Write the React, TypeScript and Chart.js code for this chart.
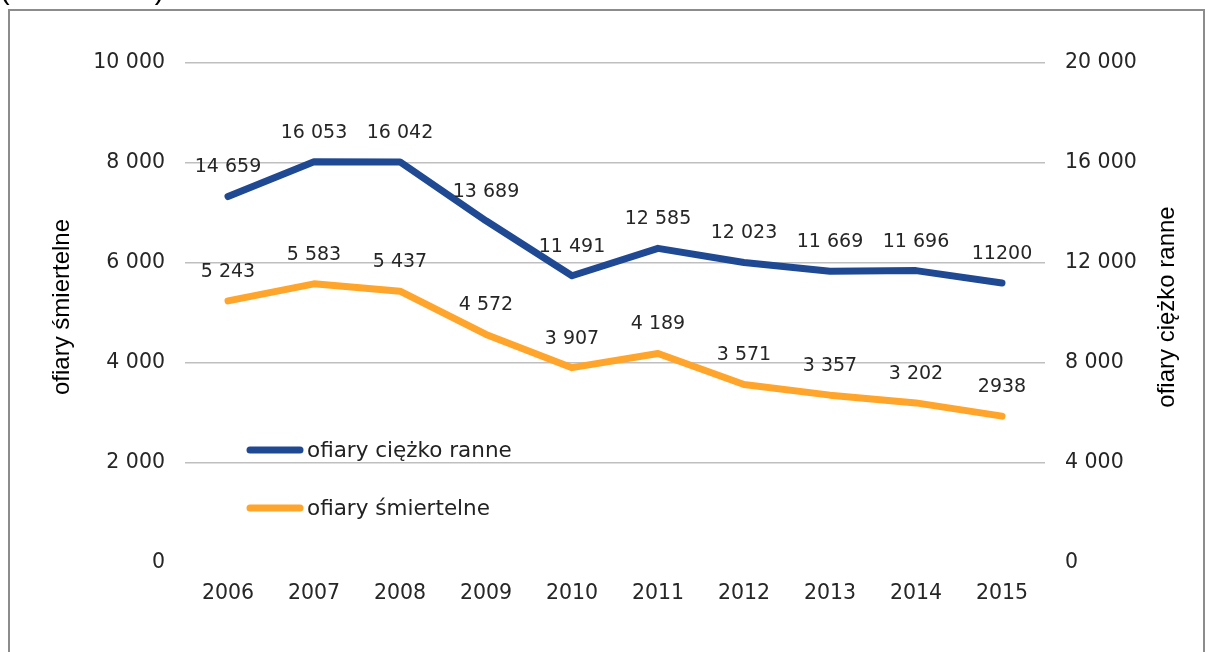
import React, { useEffect, useRef } from "react";
import { Chart, registerables } from "chart.js";

Chart.register(...registerables);

const years = ["2006", "2007", "2008", "2009", "2010", "2011", "2012", "2013", "2014", "2015"];
const seriouslyInjured = [14659, 16053, 16042, 13689, 11491, 12585, 12023, 11669, 11696, 11200];
const fatalities = [5243, 5583, 5437, 4572, 3907, 4189, 3571, 3357, 3202, 2938];
const injuredLabels = ["14 659", "16 053", "16 042", "13 689", "11 491", "12 585", "12 023", "11 669", "11 696", "11200"];
const fatalLabels = ["5 243", "5 583", "5 437", "4 572", "3 907", "4 189", "3 571", "3 357", "3 202", "2938"];
const seriesNames = ["ofiary ciężko ranne", "ofiary śmiertelne"];
const leftTitle = "ofiary śmiertelne";
const rightTitle = "ofiary ciężko ranne";
const topCaption = "(liczba osób)";

const BLUE = "#1F4A93";
const ORANGE = "#FFA52B";
const VERDANA = "'DejaVu Sans', Verdana, sans-serif";
const ARIAL = "'Liberation Sans', Arial, sans-serif";

const fmt = (v: number) => String(v).replace(/\B(?=(\d{3})+(?!\d))/g, " ");

const decorPlugin = {
  id: "decor",
  beforeDraw(chart: any) {
    const ctx = chart.ctx;
    ctx.save();
    ctx.fillStyle = "#ffffff";
    ctx.fillRect(0, 0, chart.width, chart.height);
    ctx.strokeStyle = "#8c8c8c";
    ctx.lineWidth = 2;
    ctx.strokeRect(9, 10, 1195, 700);
    ctx.fillStyle = "#000";
    ctx.font = `29px ${ARIAL}`;
    ctx.textBaseline = "alphabetic";
    ctx.textAlign = "left";
    ctx.fillText(topCaption, 0, -1);
    ctx.restore();
  },
  afterDatasetsDraw(chart: any) {
    const ctx = chart.ctx;
    const area = chart.chartArea;
    ctx.save();
    // data labels
    ctx.font = `19px ${VERDANA}`;
    ctx.fillStyle = "#262626";
    ctx.textAlign = "center";
    ctx.textBaseline = "middle";
    const labelSets = [injuredLabels, fatalLabels];
    chart.data.datasets.forEach((ds: any, di: number) => {
      const meta = chart.getDatasetMeta(di);
      meta.data.forEach((pt: any, i: number) => {
        ctx.fillText(labelSets[di][i], pt.x, pt.y - 29);
      });
    });
    // axis titles
    ctx.font = `24px ${ARIAL}`;
    ctx.fillStyle = "#000";
    const midY = (area.top + area.bottom) / 2 - 6;
    ctx.save();
    ctx.translate(62, midY);
    ctx.rotate(-Math.PI / 2);
    ctx.fillText(leftTitle, 0, 0);
    ctx.restore();
    ctx.save();
    ctx.translate(1167, midY);
    ctx.rotate(-Math.PI / 2);
    ctx.fillText(rightTitle, 0, 0);
    ctx.restore();
    // legend
    const colors = [BLUE, ORANGE];
    const legendYs = [450, 508];
    ctx.font = `21.5px ${VERDANA}`;
    ctx.textAlign = "left";
    ctx.textBaseline = "middle";
    seriesNames.forEach((name, i) => {
      ctx.strokeStyle = colors[i];
      ctx.lineWidth = 7;
      ctx.lineCap = "round";
      ctx.beginPath();
      ctx.moveTo(250, legendYs[i]);
      ctx.lineTo(300, legendYs[i]);
      ctx.stroke();
      ctx.fillStyle = "#222";
      ctx.fillText(name, 307, legendYs[i] + 1);
    });
    ctx.restore();
  },
};

export default function App() {
  const canvasRef = useRef<HTMLCanvasElement | null>(null);

  useEffect(() => {
    document.body.style.margin = "0";
    const canvas = canvasRef.current;
    if (!canvas) return;
    const tickFont = { family: VERDANA, size: 20.5 };
    const chart = new Chart(canvas, {
      type: "line",
      data: {
        labels: years,
        datasets: [
          {
            label: seriesNames[0],
            data: seriouslyInjured,
            borderColor: BLUE,
            backgroundColor: BLUE,
            borderWidth: 7,
            pointRadius: 0,
            tension: 0,
            yAxisID: "yRight",
            borderJoinStyle: "round",
            borderCapStyle: "round",
          },
          {
            label: seriesNames[1],
            data: fatalities,
            borderColor: ORANGE,
            backgroundColor: ORANGE,
            borderWidth: 7,
            pointRadius: 0,
            tension: 0,
            yAxisID: "yLeft",
            borderJoinStyle: "round",
            borderCapStyle: "round",
          },
        ],
      },
      options: {
        responsive: false,
        animation: false,
        devicePixelRatio: 1,
        layout: { padding: { top: 63, left: 0, right: 0, bottom: 0 } },
        plugins: { legend: { display: false }, tooltip: { enabled: false } },
        scales: {
          x: {
            offset: true,
            grid: { display: false },
            border: { display: false },
            ticks: { color: "#262626", font: tickFont, padding: 10, maxRotation: 0 },
            afterFit: (s: any) => { s.height = 89; },
          },
          yLeft: {
            position: "left",
            min: 0,
            max: 10000,
            border: { display: false },
            grid: {
              drawTicks: false,
              color: (c: any) => (c.tick && c.tick.value === 0 ? "rgba(0,0,0,0)" : "#bfbfbf"),
              lineWidth: 1.5,
            },
            ticks: {
              stepSize: 2000,
              padding: 20,
              color: "#262626",
              font: tickFont,
              callback: (v: any) => fmt(Number(v)),
            },
            afterFit: (s: any) => { s.width = 185; },
          },
          yRight: {
            position: "right",
            min: 0,
            max: 20000,
            border: { display: false },
            grid: { display: false, drawTicks: false },
            ticks: {
              stepSize: 4000,
              padding: 20,
              color: "#262626",
              font: tickFont,
              callback: (v: any) => fmt(Number(v)),
            },
            afterFit: (s: any) => { s.width = 163; },
          },
        },
      },
      plugins: [decorPlugin],
    } as any);
    return () => chart.destroy();
  }, []);

  return (
    <div style={{ position: "fixed", left: 0, top: 0, width: 1208, height: 652, overflow: "hidden", background: "#fff" }}>
      <canvas ref={canvasRef} width={1208} height={652} style={{ width: 1208, height: 652, display: "block" }} />
    </div>
  );
}
